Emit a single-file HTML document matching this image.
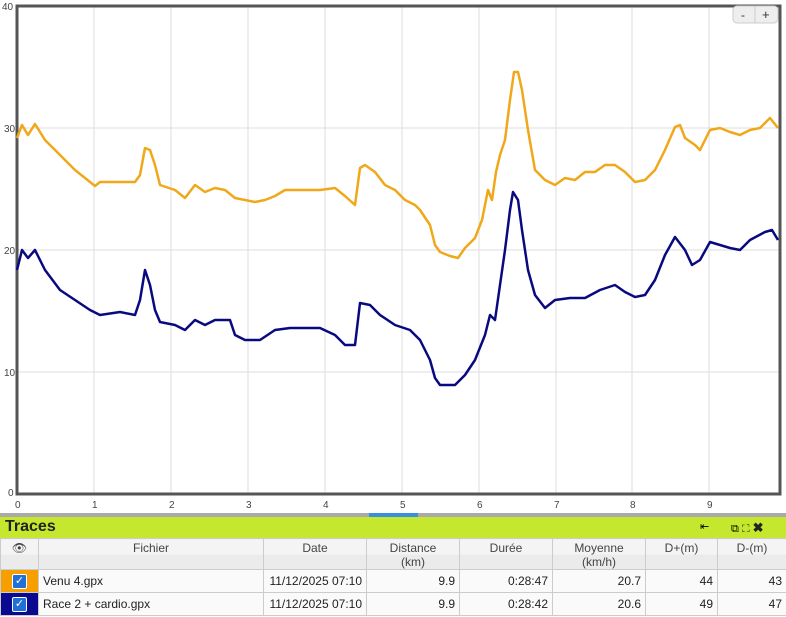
<!DOCTYPE html>
<html><head><meta charset="utf-8"><style>
body{margin:0;width:786px;height:617px;overflow:hidden;background:#fff;font-family:"Liberation Sans",sans-serif;position:relative}
svg{position:absolute;left:0;top:0}
.bar{position:absolute;left:0;top:517px;width:786px;height:21px;background:#c5e82e;}
.bar b{position:absolute;left:5px;top:1px;font-size:16px;color:#222}
table{position:absolute;left:0;top:538px;width:786px;table-layout:fixed;border-collapse:collapse;font-size:12px;color:#222}
td{border:1px solid #ccc;padding:0 4px;height:22px;white-space:nowrap;overflow:hidden;background:#fafafa}
th{border:1px solid #ccc;font-weight:normal;color:#444;height:27px;background:linear-gradient(#f4f4f4 50%,#ebebeb 50%);vertical-align:top;padding:2px 0 0 0;line-height:14px;white-space:nowrap}
.r{text-align:right}
.cb{display:inline-block;width:13px;height:13px;background:#2070d8;border-radius:2px;color:#fff;font-size:11px;line-height:13px;text-align:center;border:1px solid #fff}
</style></head><body>
<svg width="786" height="517">
<g stroke="#ddd" stroke-width="1">
<line x1="94" y1="6" x2="94" y2="494"/><line x1="171" y1="6" x2="171" y2="494"/><line x1="248" y1="6" x2="248" y2="494"/><line x1="325" y1="6" x2="325" y2="494"/><line x1="402" y1="6" x2="402" y2="494"/><line x1="479" y1="6" x2="479" y2="494"/><line x1="556" y1="6" x2="556" y2="494"/><line x1="632" y1="6" x2="632" y2="494"/><line x1="709" y1="6" x2="709" y2="494"/>
<line x1="17" y1="128" x2="780" y2="128"/><line x1="17" y1="250" x2="780" y2="250"/><line x1="17" y1="372" x2="780" y2="372"/>
</g>
<rect x="17" y="6" width="763" height="488" fill="none" stroke="#555" stroke-width="3"/>
<g font-size="10" fill="#444">
<text x="2" y="10">40</text><text x="4" y="132">30</text><text x="4" y="254">20</text><text x="4" y="376">10</text><text x="8" y="496">0</text>
<text x="15" y="508">0</text><text x="92" y="508">1</text><text x="169" y="508">2</text><text x="246" y="508">3</text><text x="323" y="508">4</text><text x="400" y="508">5</text><text x="477" y="508">6</text><text x="554" y="508">7</text><text x="630" y="508">8</text><text x="707" y="508">9</text>
</g>
<rect x="733" y="6" width="45" height="17" rx="4" fill="#eee" stroke="#ccc"/><line x1="755" y1="6" x2="755" y2="23" stroke="#ccc"/>
<text x="741" y="19" font-size="12" fill="#333">-</text><text x="762" y="19" font-size="13" fill="#333">+</text>
<polyline fill="none" stroke="#f0a81a" stroke-width="2.5" stroke-linejoin="round" points="17,138 22,125 28,135 35,124 45,140 60,155 75,170 90,182 95,186 100,182 120,182 135,182 140,175 145,148 150,150 155,165 160,185 175,190 185,198 195,185 205,192 215,188 225,190 235,198 245,200 255,202 265,200 275,196 285,190 300,190 320,190 335,188 345,196 355,205 360,168 365,165 375,172 385,185 395,190 405,200 415,205 420,210 430,225 435,245 440,252 450,256 458,258 465,248 475,238 482,220 488,190 492,200 496,172 500,155 505,140 510,100 514,72 518,72 522,90 528,130 535,170 545,180 555,185 565,178 575,180 585,172 595,172 605,165 615,165 625,172 635,182 645,180 655,170 665,150 675,127 680,125 685,138 695,145 700,150 710,130 720,128 730,132 740,135 750,130 760,128 770,118 778,128"/>
<polyline fill="none" stroke="#0a0a80" stroke-width="2.5" stroke-linejoin="round" points="17,270 22,250 28,258 35,250 45,270 60,290 75,300 90,310 100,315 120,312 135,315 140,300 145,270 150,285 155,310 160,322 175,325 185,330 195,320 205,325 215,320 230,320 235,335 245,340 260,340 275,330 290,328 305,328 320,328 335,335 345,345 355,345 360,303 370,305 380,315 395,325 410,330 420,340 430,360 435,378 440,385 455,385 465,375 475,360 485,335 490,315 495,320 500,285 505,250 510,210 513,192 518,200 522,230 528,270 535,295 545,308 555,300 570,298 585,298 600,290 615,285 625,292 635,297 645,295 655,280 665,255 675,237 685,250 692,265 700,260 710,242 720,245 730,248 740,250 750,240 765,232 772,230 778,240"/>
<rect x="0" y="513" width="786" height="4" fill="#aaa"/><rect x="369" y="513" width="49" height="4" fill="#3a8ee0"/>
</svg>
<div class="bar"><b>Traces</b><span style="position:absolute;left:700px;top:3px;font-size:11px">⇤</span><span style="position:absolute;left:731px;top:3px;font-size:11px">⧉ ⛶ <b style="position:static;font-size:13px">✖</b></span></div>
<table>
<colgroup><col style="width:38px"><col style="width:225px"><col style="width:103px"><col style="width:93px"><col style="width:93px"><col style="width:93px"><col style="width:72px"><col style="width:69px"></colgroup>
<tr><th>👁</th><th>Fichier</th><th>Date</th><th>Distance<br>(km)</th><th>Durée</th><th>Moyenne<br>(km/h)</th><th>D+(m)</th><th>D-(m)</th></tr>
<tr><td style="background:#f5a000;text-align:center"><span class="cb">✓</span></td><td>Venu 4.gpx</td><td class="r">11/12/2025 07:10</td><td class="r">9.9</td><td class="r">0:28:47</td><td class="r">20.7</td><td class="r">44</td><td class="r">43</td></tr>
<tr><td style="background:#0a0a90;text-align:center"><span class="cb">✓</span></td><td>Race 2 + cardio.gpx</td><td class="r">11/12/2025 07:10</td><td class="r">9.9</td><td class="r">0:28:42</td><td class="r">20.6</td><td class="r">49</td><td class="r">47</td></tr>
</table>
</body></html>
